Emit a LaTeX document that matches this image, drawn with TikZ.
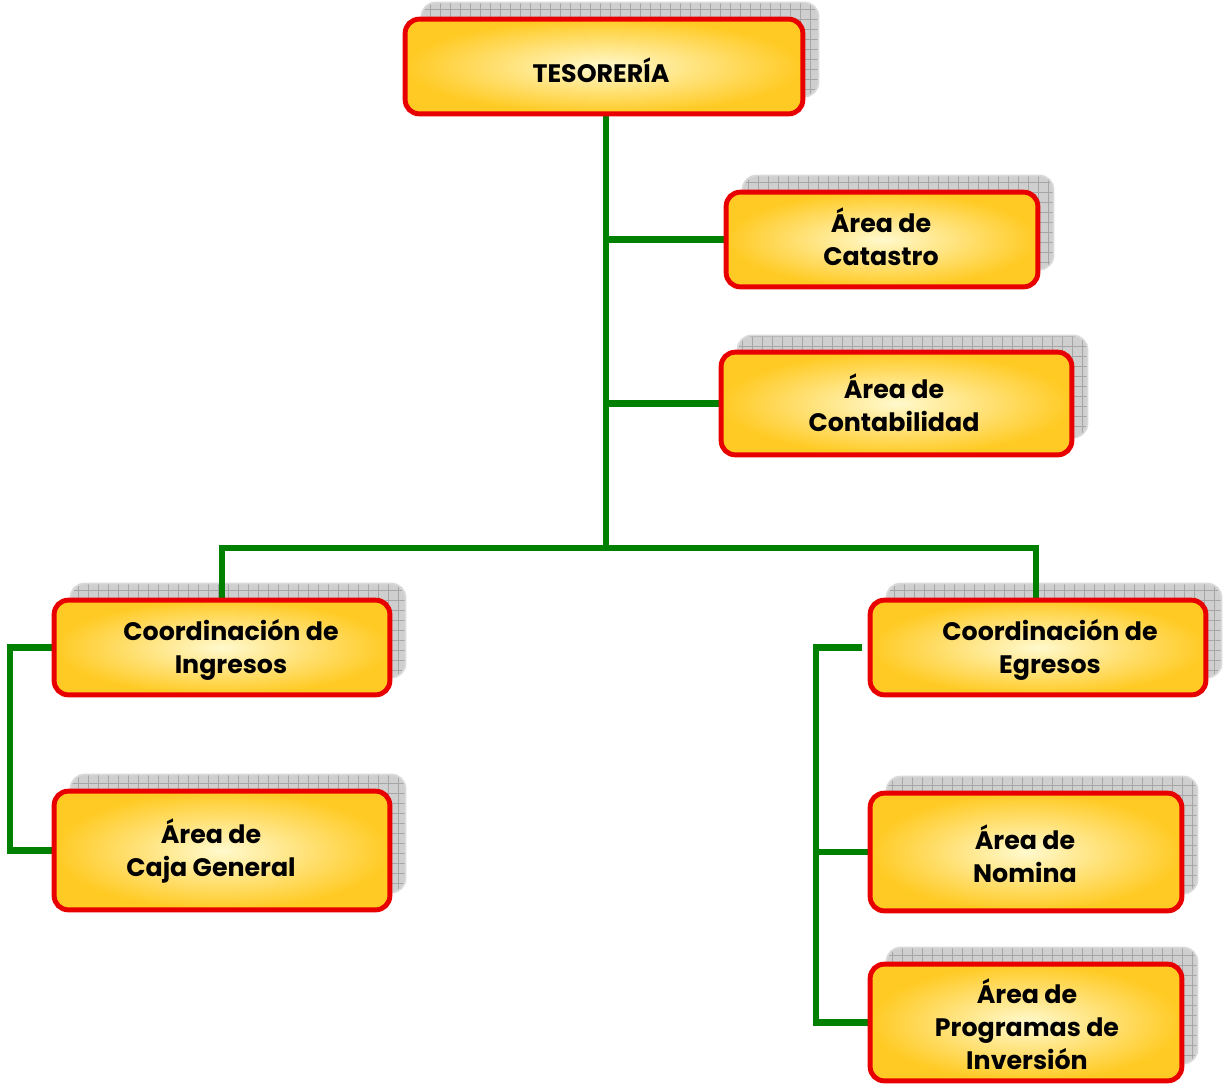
\documentclass[tikz,border=0pt]{standalone}
\usepackage{fontspec}
\setmainfont{Poppins}
\definecolor{boxred}{RGB}{232,0,0}
\definecolor{yelin}{RGB}{255,249,205}
\definecolor{yelout}{RGB}{255,202,35}
\definecolor{conngreen}{RGB}{0,128,0}
\tikzset{
  box/.style={draw=boxred, line width=2.8pt, rounded corners=8pt,
    inner color=yelin, outer color=yelout, inner sep=0pt},
  shadowbox/.style={rounded corners=8pt, fill=gray!38, draw=gray!30, line width=1pt, inner sep=0pt,
    path picture={\draw[gray!70, line width=0.4pt, step=0.2cm]
      (path picture bounding box.south west) grid (path picture bounding box.north east);}},
  conn/.style={draw=conngreen, line width=3.6pt, line join=miter},
  lbl/.style={font=\bfseries\fontsize{14.4}{18.7}\selectfont, align=center, text=black}
}
\newcommand{\orgbox}[6]{%
  \node[shadowbox, minimum width=#4*0.02cm, minimum height=#5*0.02cm] (#1s) at (#2+16,#3-17) {};
}
\begin{document}
\begin{tikzpicture}[x=0.02cm,y=-0.02cm]
\useasboundingbox (0,0) rectangle (1225,1086);
% shadows
\orgbox{tes}{604}{66.5}{397}{94}{}
\orgbox{cat}{882}{239.5}{311}{94}{}
\orgbox{con}{896.5}{403.5}{350}{102}{}
\orgbox{ing}{222}{647.5}{335}{94}{}
\orgbox{caja}{222}{850.5}{335}{118}{}
\orgbox{egr}{1038}{647.5}{335}{94}{}
\orgbox{nom}{1026}{852}{311}{117}{}
\orgbox{prog}{1026}{1022.5}{311}{116}{}
% box placeholders for connectors
\node[minimum width=397*0.02cm, minimum height=94*0.02cm, inner sep=0pt] (tes) at (604,66.5) {};
\node[minimum width=311*0.02cm, minimum height=94*0.02cm, inner sep=0pt] (cat) at (882,239.5) {};
\node[minimum width=350*0.02cm, minimum height=102*0.02cm, inner sep=0pt] (con) at (896.5,403.5) {};
\node[minimum width=335*0.02cm, minimum height=94*0.02cm, inner sep=0pt] (ing) at (222,647.5) {};
\node[minimum width=335*0.02cm, minimum height=118*0.02cm, inner sep=0pt] (caja) at (222,850.5) {};
\node[minimum width=335*0.02cm, minimum height=94*0.02cm, inner sep=0pt] (egr) at (1036,647.5) {};
\node[minimum width=311*0.02cm, minimum height=117*0.02cm, inner sep=0pt] (nom) at (1026,852) {};
\node[minimum width=311*0.02cm, minimum height=116*0.02cm, inner sep=0pt] (prog) at (1026,1022.5) {};
% connectors
\coordinate (jn) at (606,548);
\coordinate (lb) at (10,647.5);
\coordinate (rb) at (816,647.5);
\draw[conn] (tes.south -| jn) -- (jn);
\draw[conn] (cat.west) -- (cat.west -| jn);
\draw[conn] (con.west) -- (con.west -| jn);
\draw[conn] (ing.north) |- (jn) -| (egr.north);
\draw[conn] (ing.west) -- (lb) |- (caja.west);
\draw[conn] ([xshift=-0.12cm]egr.west) -- (rb) |- (prog.west);
\draw[conn] (nom.west) -- (nom.west -| rb);
% boxes
\path[box] (tes.south west) rectangle (tes.north east);
\path[box] (cat.south west) rectangle (cat.north east);
\path[box] (con.south west) rectangle (con.north east);
\path[box] (ing.south west) rectangle (ing.north east);
\path[box] (caja.south west) rectangle (caja.north east);
\path[box] ([xshift=0.04cm]egr.south west) rectangle ([xshift=0.04cm]egr.north east);
\path[box] (nom.south west) rectangle (nom.north east);
\path[box] (prog.south west) rectangle (prog.north east);
% labels
\node[lbl] (tesl) at (601,70) {TESORERÍA};
\node[lbl] (catl) at (881,237) {Área de\\Catastro};
\node[lbl] (conl) at (894,403) {Área de\\Contabilidad};
\node[lbl] (ingl) at (231,650) {Coordinación de\\Ingresos};
\node[lbl] (cajal) at (211,851) {Área de\\Caja General};
\node[lbl] (egrl) at (1050,650) {Coordinación de\\Egresos};
\node[lbl] (noml) at (1025,854) {Área de\\Nomina};
\node[lbl] (progl) at (1027,1024) {Área de\\Programas de\\Inversión};
\end{tikzpicture}
\end{document}
